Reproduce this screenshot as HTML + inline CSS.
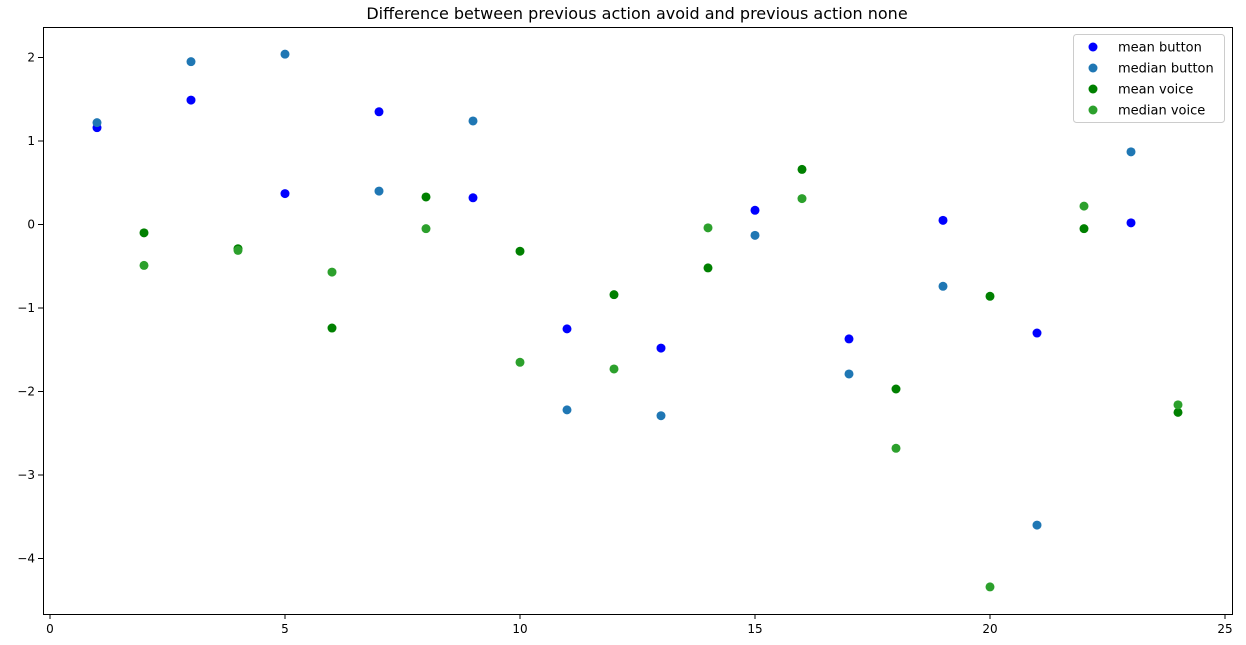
<!DOCTYPE html>
<html><head><meta charset="utf-8"><style>
body{margin:0;background:#fff;}
svg{display:block;font-family:"DejaVu Sans","Liberation Sans",sans-serif;}
</style></head><body>
<svg id="chart" width="1246" height="645"></svg>
<script>
const buttonX=[1,3,5,7,9,11,13,15,17,19,21,23];
const meanButton=[1.16,1.49,0.37,1.35,0.32,-1.25,-1.48,0.17,-1.37,0.05,-1.30,0.02];
const medianButton=[1.22,1.95,2.04,0.40,1.24,-2.22,-2.29,-0.13,-1.79,-0.74,-3.60,0.87];
const voiceX=[2,4,6,8,10,12,14,16,18,20,22,24];
const meanVoice=[-0.10,-0.29,-1.24,0.33,-0.32,-0.84,-0.52,0.66,-1.97,-0.86,-0.05,-2.25];
const medianVoice=[-0.49,-0.31,-0.57,-0.05,-1.65,-1.73,-0.04,0.31,-2.68,-4.34,0.22,-2.16];
const xTicks=[0,5,10,15,20,25];
const yTicks=[2,1,0,-1,-2,-3,-4];
const seriesNames=["mean button","median button","mean voice","median voice"];

const NS="http://www.w3.org/2000/svg";
const svg=document.getElementById('chart');
const L=43,R=1232,T=27,B=614;
const xs=v=>50+v*47;
const ys=v=>224.5-v*83.5;
function mk(tag,attrs,parent){const e=document.createElementNS(NS,tag);for(const k in attrs)e.setAttribute(k,attrs[k]);(parent||svg).appendChild(e);return e;}

const title=mk('text',{x:637,y:19,'text-anchor':'middle','font-size':16,fill:'#000'});
title.textContent='Difference between previous action avoid and previous action none';



xTicks.forEach(t=>{
  const x=xs(t);
  const l=mk('line',{x1:x,x2:x,y1:B,y2:B+5,stroke:'#000','stroke-width':1});
  
  
  const tx=mk('text',{x:x,y:B+19,'text-anchor':'middle','font-size':12});
  tx.textContent=t;
  
  
});
yTicks.forEach(t=>{
  const y=ys(t);
  const l=mk('line',{x1:L-5,x2:L,y1:y,y2:y,stroke:'#000','stroke-width':1});
  
  
  const tx=mk('text',{x:L-8,y:y+4,'text-anchor':'end','font-size':12});
  tx.textContent=(t<0?'\u2212'+(-t):t);
  
  
});

const series=[[buttonX,meanButton,'#0000ff'],[buttonX,medianButton,'#1f77b4'],[voiceX,meanVoice,'#008000'],[voiceX,medianVoice,'#2ca02c']];
series.forEach((s,si)=>{
  s[0].forEach((xv,i)=>{
    const c=mk('circle',{cx:xs(xv),cy:ys(s[1][i]),r:4.5,fill:s[2]});
    
    
  });
});

const frame=mk('rect',{x:L+0.5,y:T+0.5,width:R-L,height:B-T,fill:'none',stroke:'#000','stroke-width':1});



const lg=mk('g',{});


mk('rect',{x:1073.5,y:34.5,width:151,height:88,rx:3,fill:'#fff',stroke:'#ccc'},lg);
series.forEach((s,i)=>{
  const y=47+i*21;
  const c=mk('circle',{cx:1093,cy:y,r:4.5,fill:s[2]},lg);
  
  
  const t=mk('text',{x:1118,y:y+4.5,'font-size':13},lg);
  t.textContent=seriesNames[i];
  
  
});
</script>
</body></html>
